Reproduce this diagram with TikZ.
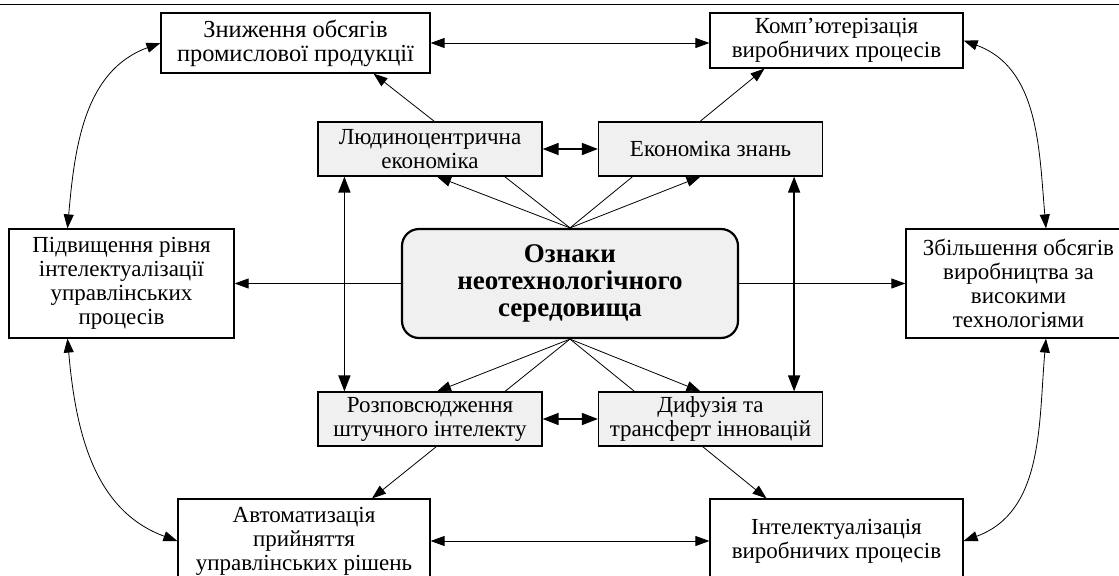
\documentclass[tikz,border=0pt]{standalone}
\usepackage{fontspec}
\setmainfont{Liberation Serif}
\usepackage{xcolor}
\usetikzlibrary{arrows.meta}
\definecolor{boxgrey}{RGB}{240,240,240}
\pgfdeclarelayer{bg}
\pgfsetlayers{bg,main}

\begin{document}
\begin{tikzpicture}[x=0.5pt,y=0.5pt,
    outerbox/.style={draw, line width=0.6pt, fill=white, align=center, inner sep=0pt, font=\fontsize{11.5}{12}\selectfont},
    innerbox/.style={outerbox, fill=boxgrey, minimum width=112pt, minimum height=27pt},
    centrebox/.style={draw, line width=1.1pt, fill=boxgrey, rounded corners=8.5pt, align=center, inner sep=0pt, minimum width=168pt, minimum height=54.5pt, font=\fontsize{13.5}{13.5}\selectfont\bfseries},
    oneway/.style={line width=0.4pt, -{Triangle[length=7pt,width=5pt]}},
    twoway/.style={line width=0.4pt, {Triangle[length=7pt,width=5pt]}-{Triangle[length=7pt,width=5pt]}},
    boldway/.style={line width=0.8pt, {Triangle[length=8pt,width=6pt]}-{Triangle[length=8pt,width=6pt]}}]
    \path[use as bounding box, clip] (0,0) rectangle (1119,575);
    \draw[line width=0.5pt] (0,570.5) -- (1119,570.5); % rule at the top

    % outer ring of boxes
    \node[outerbox, minimum width=134.5pt, minimum height=30pt, font=\fontsize{12.2}{12}\selectfont] (zn) at (295.5,532) {Зниження обсягів\\промислової продукції};
    \node[outerbox, minimum width=126.5pt, minimum height=27.5pt] (komp) at (836.5,534.5) {Комп’ютерізація\\виробничих процесів};
    \node[outerbox, minimum width=112.5pt, minimum height=54.5pt] (pidv) at (121.5,291.5) {Підвищення рівня\\інтелектуалізації\\управлінських\\процесів};
    \node[outerbox, minimum width=112.5pt, minimum height=54.5pt] (zbil) at (1018.5,291.5) {Збільшення обсягів\\виробництва за\\високими\\технологіями};
    \node[outerbox, minimum width=126pt, minimum height=42pt] (avt) at (304,34) {Автоматизація\\прийняття\\управлінських рішень};
    \node[outerbox, minimum width=126.5pt, minimum height=42pt] (int) at (836.5,34) {Інтелектуалізація\\виробничих процесів};

    % grey boxes
    \node[innerbox] (lud) at (430,426) {Людиноцентрична\\економіка};
    \node[innerbox] (ekon) at (710.5,426) {Економіка знань};
    \node[innerbox] (rozp) at (430,156) {Розповсюдження\\штучного інтелекту};
    \node[innerbox] (dyf) at (710.5,156) {Дифузія та\\трансферт інновацій};

    \node[centrebox] (ozn) at (570,291.5) {Ознаки\\неотехнологічного\\середовища};

    \begin{pgfonlayer}{bg}
        % from the centre
        \draw[oneway] (ozn.north) -- ([xshift=3.5pt]lud.south);
        \draw[oneway] (ozn.north) -- ([xshift=39pt]zn.south);
        \draw[oneway] (ozn.north) -- ([xshift=-5pt]ekon.south);
        \draw[oneway] (ozn.north) -- ([xshift=-36pt]komp.south);
        \draw[oneway] (ozn.south) -- ([xshift=3.5pt]rozp.north);
        \draw[oneway] (ozn.south) -- ([xshift=34pt]avt.north);
        \draw[oneway] (ozn.south) -- ([xshift=-5pt]dyf.north);
        \draw[oneway] (ozn.south) -- ([xshift=-35pt]int.north);
        \draw[oneway] (ozn.west) -- (pidv.east);
        \draw[oneway] (ozn.east) -- (zbil.west);

        % between the grey boxes
        \draw[boldway] ([xshift=13.5pt]lud.south west) -- ([xshift=13.5pt]rozp.north west);
        \draw[boldway] ([xshift=-14.5pt]ekon.south east) -- ([xshift=-14.5pt]dyf.north east);
        \draw[boldway] (lud.east) -- (ekon.west);
        \draw[boldway] (rozp.east) -- (dyf.west);

        % round the outside
        \draw[twoway] (zn.east) -- (zn.east -| komp.west);
        \draw[twoway] (avt.east) -- (int.west);
        \draw[twoway] ([xshift=-27pt]pidv.north) to[out=85,in=200] (zn.west);
        \draw[twoway] ([xshift=13.75pt]zbil.north) to[out=95,in=-20] (komp.east);
        \draw[twoway] ([xshift=-27pt]pidv.south) to[out=-85,in=160] (avt.west);
        \draw[twoway] ([xshift=13.75pt]zbil.south) to[out=-95,in=20] (int.east);
    \end{pgfonlayer}
\end{tikzpicture}
\end{document}
